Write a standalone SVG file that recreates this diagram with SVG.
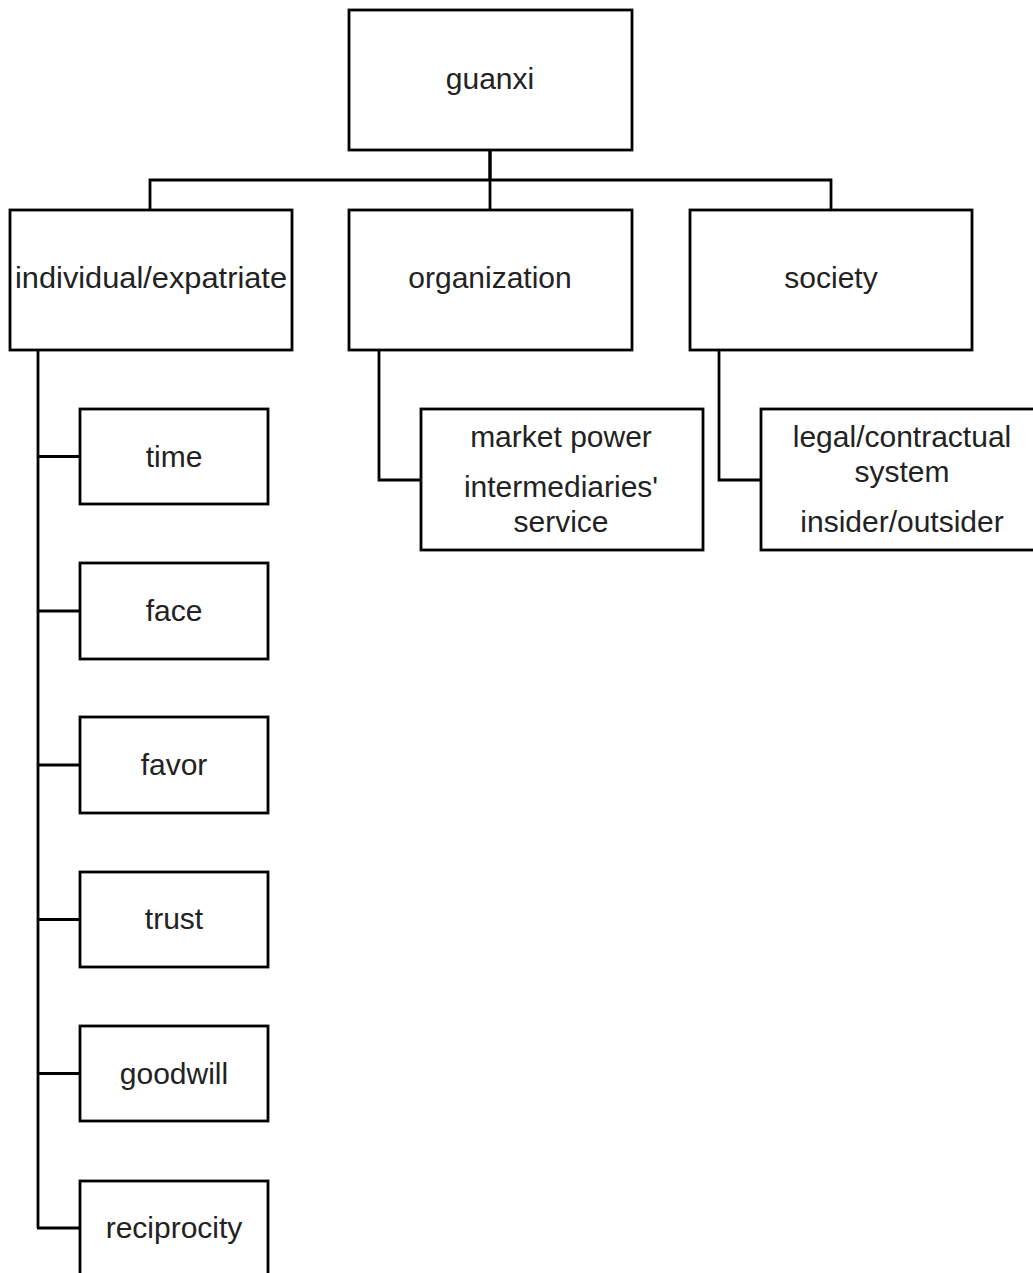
<svg xmlns="http://www.w3.org/2000/svg" width="1033" height="1273" viewBox="0 0 1033 1273">
<style>
rect{fill:#fff;stroke:#000;stroke-width:2.8}
.c path,.c line{fill:none;stroke:#000;stroke-width:2.8}
text{font-family:"Liberation Sans",Arial,sans-serif;font-size:30px;fill:#222;text-anchor:middle}
</style>
<rect x="0" y="0" width="1033" height="1273" style="stroke:none"/>
<g class="c" id="connectors">
<line x1="490" y1="150" x2="490" y2="180" style="stroke-width:3.5"/>
<path d="M150 210V180H831V210"/>
<line x1="490" y1="180" x2="490" y2="210"/>
<path d="M38 350V1228"/>
<line x1="38" y1="456.5" x2="80" y2="456.5"/>
<line x1="38" y1="611" x2="80" y2="611"/>
<line x1="38" y1="765" x2="80" y2="765"/>
<line x1="38" y1="919.5" x2="80" y2="919.5"/>
<line x1="38" y1="1073.5" x2="80" y2="1073.5"/>
<line x1="37" y1="1228" x2="80" y2="1228"/>
<path d="M379 350V480H421"/>
<path d="M719 350V480H761"/>
</g>
<g id="guanxi"><rect x="349" y="10" width="283" height="140"/><text x="490" y="89">guanxi</text></g>
<g id="individual"><rect x="10" y="210" width="282" height="140"/><text x="151" y="288" textLength="272" lengthAdjust="spacingAndGlyphs">individual/expatriate</text></g>
<g id="organization"><rect x="349" y="210" width="283" height="140"/><text x="490" y="288">organization</text></g>
<g id="society"><rect x="690" y="210" width="282" height="140"/><text x="831" y="288">society</text></g>
<g id="time"><rect x="80" y="409" width="188" height="95"/><text x="174" y="467">time</text></g>
<g id="face"><rect x="80" y="563" width="188" height="96"/><text x="174" y="621">face</text></g>
<g id="favor"><rect x="80" y="717" width="188" height="96"/><text x="174" y="775">favor</text></g>
<g id="trust"><rect x="80" y="872" width="188" height="95"/><text x="174" y="929">trust</text></g>
<g id="goodwill"><rect x="80" y="1026" width="188" height="95"/><text x="174" y="1084">goodwill</text></g>
<g id="reciprocity"><rect x="80" y="1181" width="188" height="100"/><text x="174" y="1238">reciprocity</text></g>
<g id="org-factors"><rect x="421" y="409" width="282" height="141"/>
<text x="561" y="447">market power</text>
<text x="561" y="497">intermediaries'</text>
<text x="561" y="532">service</text></g>
<g id="society-factors"><rect x="761" y="409" width="285" height="141"/>
<text x="902" y="447">legal/contractual</text>
<text x="902" y="482">system</text>
<text x="902" y="532">insider/outsider</text></g>
</svg>
